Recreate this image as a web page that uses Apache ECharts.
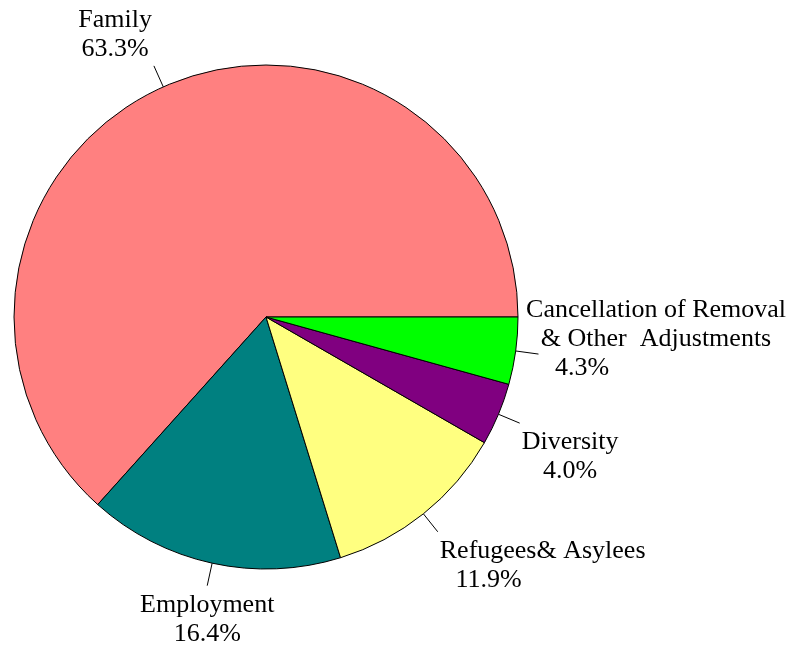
<!DOCTYPE html>
<html>
<head>
<meta charset="utf-8">
<script src="https://cdn.jsdelivr.net/npm/echarts@6/dist/echarts.min.js"></script>
<style>
html,body{margin:0;padding:0;background:#fff;}
#main{width:788px;height:647px;}
</style>
</head>
<body>
<div id="main"></div>
<script>
var categories = ['Family', 'Employment', 'Refugees& Asylees', 'Diversity', 'Cancellation of Removal\n& Other  Adjustments'];
var shares = [63.3, 16.4, 11.9, 4.0, 4.3];
var colors = ['#FF8080', '#008080', '#FFFF80', '#800080', '#00FF00'];

// percent line sits left of centre on two of the labels in the original
var pctPad = {2: 108, 4: 148};

var W = 788;
var LH = 29;
var font = 'Liberation Serif, Times New Roman, serif';
var rich = {
    n: {fontFamily: font, fontSize: 26, lineHeight: LH, color: '#000'},
    p: {fontFamily: font, fontSize: 26, lineHeight: LH, color: '#000'}
};
for (var k in pctPad) {
    rich['p' + k] = {fontFamily: font, fontSize: 26, lineHeight: LH, color: '#000', padding: [0, pctPad[k], 0, 0]};
}

var pieData = [];
for (var i = 0; i < categories.length; i++) {
    pieData.push({name: categories[i], value: shares[i], itemStyle: {color: colors[i]}});
}

var myChart = echarts.init(document.getElementById('main'));
myChart.setOption({
    animation: false,
    backgroundColor: '#fff',
    series: [{
        type: 'pie',
        center: [266, 317],
        radius: 252,
        startAngle: 0,
        clockwise: false,
        avoidLabelOverlap: false,
        itemStyle: {borderColor: '#000', borderWidth: 1},
        emphasis: {disabled: true},
        label: {
            show: true,
            position: 'outside',
            fontFamily: font,
            fontSize: 26,
            lineHeight: LH,
            color: '#000',
            formatter: function (p) {
                var lines = p.name.split('\n').map(function (s) { return '{n|' + s + '}'; });
                var tok = pctPad[p.dataIndex] ? 'p' + p.dataIndex : 'p';
                lines.push('{' + tok + '|' + p.value.toFixed(1) + '%}');
                return lines.join('\n');
            },
            rich: rich
        },
        labelLine: {
            show: true,
            length: 23,
            length2: 0,
            smooth: false,
            lineStyle: {color: '#000', width: 1}
        },
        labelLayout: function (params) {
            var pts = params.labelLinePoints;
            if (!pts) return {};
            var a = pts[0], b = pts[1];
            var dx = b[0] - a[0], dy = b[1] - a[1];
            var len = Math.sqrt(dx * dx + dy * dy) || 1;
            dx /= len; dy /= len;
            var fx = Math.abs(dx) < 0.3 ? 0 : (dx > 0 ? 1 : -1);
            var fy = Math.abs(dy) < 0.3 ? 0 : (dy > 0 ? 1 : -1);
            var w = params.labelRect.width, h = params.labelRect.height;
            var cx = b[0] + fx * (w / 2 + 2);
            // keep the label inside the chart area
            cx = Math.min(cx, W - 2 - w / 2);
            cx = Math.max(cx, 2 + w / 2);
            var cy = fy === 0 ? b[1] - LH / 2 : b[1] + fy * (h / 2 + 3.5) + 1.5;
            return {
                x: cx,
                y: cy,
                align: 'center',
                verticalAlign: 'middle',
                labelLinePoints: pts
            };
        },
        data: pieData
    }]
});
</script>
</body>
</html>
